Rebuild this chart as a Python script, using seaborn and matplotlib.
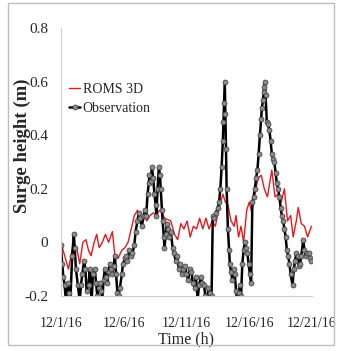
import matplotlib
matplotlib.use("Agg")
import matplotlib.pyplot as plt
import seaborn as sns
import pandas as pd
from matplotlib.patches import Rectangle

# ---- data (days since 12/1/16) ----
obs_day = [0.0, 0.1, 0.2, 0.3, 0.4, 0.55, 0.65, 0.75, 0.9, 1.03, 1.1, 1.2, 1.35, 1.5, 1.6, 1.7,
           1.85, 1.95, 2.05, 2.2, 2.3, 2.45, 2.55, 2.7, 2.8, 2.9, 3.0, 3.1, 3.2, 3.3, 3.4, 3.5,
           3.6, 3.7, 3.8, 3.9, 4.0, 4.1, 4.2, 4.3, 4.4, 4.5, 4.6, 4.7, 4.85, 4.95, 5.1, 5.2,
           5.3, 5.45, 5.6, 5.7, 5.85, 5.95, 6.1, 6.2, 6.3, 6.45, 6.6, 6.7, 6.8, 6.9, 7.0, 7.05,
           7.15, 7.25, 7.35, 7.45, 7.55, 7.6, 7.7, 7.8, 7.9, 7.95, 8.05, 8.1, 8.2, 8.25, 8.35,
           8.45, 8.55, 8.65, 8.75, 8.9, 9.0, 9.15, 9.25, 9.4, 9.5, 9.65, 9.75, 9.9, 10.0, 10.15,
           10.25, 10.4, 10.5, 10.65, 10.75, 10.9, 11.0, 11.15, 11.25, 11.4, 11.5, 11.65, 11.75,
           11.85, 12.0, 12.1, 12.2, 12.35, 12.5, 12.6, 12.7, 12.8, 12.9, 12.95, 13.0, 13.05,
           13.1, 13.15, 13.2, 13.3, 13.4, 13.45, 13.55, 13.65, 13.75, 13.85, 13.95, 14.05,
           14.15, 14.25, 14.35, 14.45, 14.55, 14.65, 14.75, 14.85, 14.95, 15.05, 15.15, 15.25,
           15.35, 15.45, 15.55, 15.65, 15.75, 15.85, 15.95, 16.0, 16.1, 16.15, 16.2, 16.25,
           16.3, 16.4, 16.5, 16.6, 16.7, 16.8, 16.9, 17.0, 17.1, 17.2, 17.3, 17.4, 17.5, 17.6,
           17.7, 17.8, 17.9, 18.0, 18.1, 18.2, 18.3, 18.45, 18.55, 18.65, 18.75, 18.85, 18.95,
           19.05, 19.15, 19.3, 19.4, 19.5, 19.6, 19.75, 19.85, 19.95]
obs_val = [-0.01, -0.08, -0.13, -0.16, -0.22, -0.15, -0.19, -0.22, -0.05, 0.03, -0.02, -0.10,
           -0.16, -0.22, -0.16, -0.12, -0.07, -0.10, -0.18, -0.16, -0.10, -0.22, -0.12, -0.10,
           -0.15, -0.20, -0.17, -0.15, -0.18, -0.21, -0.14, -0.10, -0.13, -0.15, -0.11, -0.08,
           -0.10, -0.12, -0.09, -0.05, -0.12, -0.19, -0.20, -0.17, -0.12, -0.08, -0.06, -0.05,
           -0.07, -0.03, -0.05, -0.04, -0.01, 0.04, 0.08, 0.11, 0.09, 0.06, 0.10, 0.12, 0.10,
           0.18, 0.22, 0.25, 0.23, 0.28, 0.24, 0.18, 0.14, 0.10, 0.20, 0.28, 0.25, 0.20, 0.12,
           0.08, 0.02, -0.02, 0.03, 0.07, 0.05, 0.02, 0.04, -0.02, -0.04, -0.07, -0.05, -0.10,
           -0.08, -0.12, -0.10, -0.09, -0.12, -0.14, -0.10, -0.11, -0.15, -0.17, -0.13, -0.21,
           -0.16, -0.13, -0.15, -0.16, -0.20, -0.22, -0.17, -0.19, -0.20, 0.10, 0.09, 0.11, 0.13,
           0.15, 0.20, 0.28, 0.38, 0.45, 0.52, 0.60, 0.48, 0.35, 0.20, 0.05, -0.03, -0.08,
           -0.11, -0.14, -0.10, -0.12, -0.18, -0.22, -0.19, -0.16, -0.20, -0.08, -0.03, 0.00,
           -0.02, -0.04, -0.08, -0.12, -0.15, 0.15, 0.17, 0.20, 0.24, 0.27, 0.33, 0.40, 0.46,
           0.50, 0.53, 0.56, 0.58, 0.60, 0.55, 0.45, 0.44, 0.42, 0.38, 0.33, 0.31, 0.30, 0.26,
           0.22, 0.20, 0.17, 0.13, 0.10, 0.08, 0.05, 0.02, -0.03, -0.05, -0.08, -0.12, -0.16,
           -0.10, -0.07, -0.04, -0.05, -0.09, -0.08, -0.05, 0.01, -0.03, -0.05, -0.04, -0.04,
           -0.06, -0.07]

roms_day = [0.0, 0.3, 0.6, 0.85, 1.0, 1.25, 1.5, 1.75, 2.0, 2.2, 2.4, 2.65, 2.85, 3.05, 3.3,
            3.55, 3.8, 4.1, 4.3, 4.55, 4.85, 5.1, 5.35, 5.6, 5.85, 6.1, 6.35, 6.6, 6.85, 7.1,
            7.35, 7.6, 7.85, 8.0, 8.25, 8.5, 8.75, 9.05, 9.3, 9.55, 9.8, 10.05, 10.3, 10.55,
            10.8, 11.05, 11.3, 11.55, 11.8, 12.05, 12.3, 12.55, 12.9, 13.1, 13.3, 13.55, 13.8,
            13.95, 14.15, 14.35, 14.55, 14.8, 15.0, 15.2, 15.45, 15.7, 15.96, 16.2, 16.45, 16.8,
            17.05, 17.3, 17.55, 17.8, 18.05, 18.3, 18.5, 18.75, 18.9, 19.15, 19.4, 19.65, 19.95]
roms_val = [0.0, -0.05, -0.10, -0.04, 0.0, -0.02, -0.08, 0.0, 0.01, -0.03, -0.05, 0.0, 0.03,
            -0.02, 0.0, 0.03, 0.0, 0.04, -0.05, -0.06, -0.03, -0.02, 0.0, 0.05, 0.10, 0.12,
            0.09, 0.10, 0.08, 0.10, 0.11, 0.10, 0.12, 0.12, 0.09, 0.085, 0.08, 0.03, 0.01, 0.07,
            0.05, 0.08, 0.02, 0.06, 0.05, 0.09, 0.05, 0.09, 0.05, 0.08, 0.06, 0.12, 0.18, 0.15,
            0.14, 0.08, 0.06, 0.10, 0.02, 0.06, 0.0, 0.12, 0.15, 0.11, 0.18, 0.24, 0.25, 0.20,
            0.17, 0.27, 0.17, 0.18, 0.15, 0.20, 0.08, 0.10, 0.02, 0.08, 0.13, 0.07, 0.06, 0.02,
            0.06]

x_ticks = [0, 5, 10, 15, 20]
x_tick_labels = ["12/1/16", "12/6/16", "12/11/16", "12/16/16", "12/21/16"]
y_ticks = [-0.2, 0, 0.2, 0.4, 0.6, 0.8]
y_tick_labels = ["-0.2", "0", "0.2", "0.4", "0.6", "0.8"]

sns.set_style("white")
plt.rcParams["font.family"] = ["Liberation Serif", "DejaVu Serif"]

fig = plt.figure(figsize=(3.44, 3.51), dpi=100)
ax = fig.add_axes([0.177, 0.157, 0.730, 0.763])

df_roms = pd.DataFrame({"day": roms_day, "val": roms_val})
df_obs = pd.DataFrame({"day": obs_day, "val": obs_val})

sns.lineplot(data=df_roms, x="day", y="val", ax=ax, color="#e8191e", lw=1.0,
             label="ROMS 3D")
sns.lineplot(data=df_obs, x="day", y="val", ax=ax, color="black", lw=1.8,
             marker="o", markersize=3.6, markerfacecolor="#8a8a8a",
             markeredgecolor="#3a3a3a", markeredgewidth=0.5, label="Observation")

ax.set_xlim(0, 20)
ax.set_ylim(-0.2, 0.8)
ax.set_xticks(x_ticks)
ax.set_xticklabels(x_tick_labels, fontsize=10)
ax.set_yticks(y_ticks)
ax.set_yticklabels(y_tick_labels, fontsize=11)
ax.tick_params(axis="x", direction="out", length=4, width=0.6, color="#c8c8c8", pad=11)
ax.tick_params(axis="y", direction="out", length=3, width=0.6, color="#c8c8c8", pad=6)
for s in ["top", "right"]:
    ax.spines[s].set_visible(False)
for s in ["left", "bottom"]:
    ax.spines[s].set_color("#cfcfcf")
    ax.spines[s].set_linewidth(0.8)

ax.set_xlabel("Time (h)", fontsize=11.5, labelpad=1)
ax.set_ylabel("Surge height (m)", fontsize=13.5, fontweight="bold")
ax.yaxis.set_label_coords(-0.12, 0.56)

leg = ax.legend(loc="upper left", bbox_to_anchor=(0.01, 0.815), frameon=False,
                fontsize=10, handlelength=0.8, handletextpad=0.2, labelspacing=0.4,
                borderaxespad=0)

fig.patches.append(Rectangle((0.023, 0.017), 0.948, 0.975, transform=fig.transFigure,
                             fill=False, edgecolor="#bdbdbd", lw=1.0))

fig.savefig("out.png", dpi=100)
